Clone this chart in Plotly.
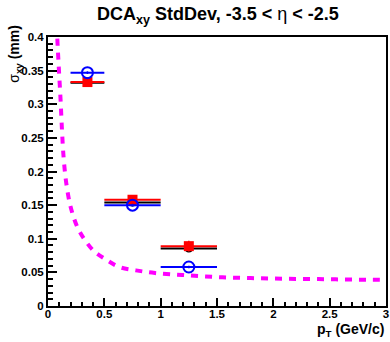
import plotly.graph_objects as go

# pT bins (GeV/c): centres and half-widths
pt = [0.35, 0.75, 1.25]
pt_halfwidth = [0.15, 0.25, 0.25]

# DCA_xy standard deviation (mm) for the three samples
sigma_red = [0.333, 0.158, 0.089]
sigma_red_err = [0.004, 0.003, 0.008]
sigma_black = [0.332, 0.154, 0.0856]
sigma_black_err = [0.003, 0.003, 0.004]
sigma_blue = [0.347, 0.150, 0.058]
sigma_blue_err = [0.002, 0.002, 0.002]

# parametrised resolution curve, sampled along pT
curve_pt = [0.07, 0.082, 0.097, 0.112, 0.124, 0.138, 0.162, 0.2, 0.259, 0.324,
            0.412, 0.515, 0.633, 0.78, 0.95, 1.2, 1.5, 1.8, 2.1, 2.4, 2.7, 3.0]
curve_sigma = [0.46, 0.400, 0.351, 0.305, 0.262, 0.222, 0.183, 0.148, 0.118, 0.099,
               0.081, 0.069, 0.058, 0.053, 0.049, 0.046, 0.043, 0.0415, 0.0405,
               0.040, 0.0393, 0.039]

x_ticks = [0, 0.5, 1, 1.5, 2, 2.5, 3]
x_ticklabels = ["0", "0.5", "1", "1.5", "2", "2.5", "3"]
y_ticks = [0, 0.05, 0.1, 0.15, 0.2, 0.25, 0.3, 0.35, 0.4]
y_ticklabels = ["0", "0.05", "0.1", "0.15", "0.2", "0.25", "0.3", "0.35", "0.4"]

FONT = "Liberation Sans, Arial, Helvetica, sans-serif"

fig = go.Figure()

fig.add_trace(go.Scatter(
    x=curve_pt, y=curve_sigma, mode="lines", line_shape="spline",
    line=dict(color="#ff00ff", width=4, dash="7px,7px"),
    hoverinfo="skip", showlegend=False))

fig.add_trace(go.Scatter(
    x=pt, y=sigma_black, mode="markers",
    marker=dict(symbol="circle", size=8, color="black"),
    error_x=dict(type="data", array=pt_halfwidth, color="black", thickness=2, width=0),
    error_y=dict(type="data", array=sigma_black_err, color="black", thickness=1.5, width=0),
    showlegend=False))

fig.add_trace(go.Scatter(
    x=pt, y=sigma_red, mode="markers",
    marker=dict(symbol="square", size=10, color="#ff0000"),
    error_x=dict(type="data", array=pt_halfwidth, color="#ff0000", thickness=2, width=0),
    error_y=dict(type="data", array=sigma_red_err, color="#ff0000", thickness=1.5, width=0),
    showlegend=False))

fig.add_trace(go.Scatter(
    x=pt, y=sigma_blue, mode="markers",
    marker=dict(symbol="circle-open", size=11, color="#0000ff", line=dict(width=2, color="#0000ff")),
    error_x=dict(type="data", array=pt_halfwidth, color="#0000ff", thickness=2, width=0),
    error_y=dict(type="data", array=sigma_blue_err, color="#0000ff", thickness=1.5, width=0),
    showlegend=False))

axis_common = dict(
    showline=True, linecolor="black", linewidth=2, mirror=True,
    ticks="inside", tickcolor="black", tickwidth=1.5,
    showgrid=False, zeroline=False,
    tickfont=dict(family=FONT, size=11.5, color="black", weight="bold"),
)

fig.update_xaxes(range=[0, 3], tickvals=x_ticks, ticktext=x_ticklabels, ticklen=8,
                 ticklabelstandoff=-4,
                 minor=dict(dtick=0.1, ticks="inside", ticklen=4, tickcolor="black", tickwidth=1.5),
                 **axis_common)
fig.update_yaxes(range=[0, 0.4], tickvals=y_ticks, ticktext=y_ticklabels, ticklen=9,
                 minor=dict(dtick=0.01, ticks="inside", ticklen=5, tickcolor="black", tickwidth=1.5),
                 **axis_common)

fig.update_layout(
    width=390, height=342,
    margin=dict(l=48, r=2, t=37, b=36),
    paper_bgcolor="white", plot_bgcolor="white",
    font=dict(family=FONT, color="black"),
    annotations=[
        dict(text="<b>DCA<sub>xy</sub> StdDev, -3.5 &lt; </b>η<b> &lt; -2.5</b>",
             xref="paper", yref="paper", x=(219 - 48) / 340, y=(306.5 - 15) / 270,
             xanchor="center", yanchor="middle", showarrow=False,
             font=dict(family=FONT, size=18, color="black")),
        dict(text="σ<sub><b>xy</b></sub><b> (mm)</b>",
             xref="paper", yref="paper", x=(14 - 48) / 340, y=(306.5 - 22) / 270,
             xanchor="center", yanchor="top", textangle=-90, showarrow=False,
             font=dict(family=FONT, size=14, color="black")),
        dict(text="<b>p<sub>T</sub> (GeV/c)</b>",
             xref="paper", yref="paper", x=(388 - 48) / 340, y=(306.5 - 331) / 270,
             xanchor="right", yanchor="middle", showarrow=False,
             font=dict(family=FONT, size=14, color="black")),
    ],
)

fig.write_html("out.html")
